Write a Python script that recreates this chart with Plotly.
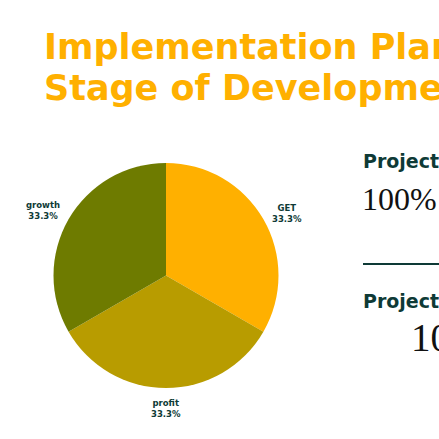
import math
import plotly.graph_objects as go

W = H = 439

# data
stages = ["GET", "profit", "growth"]
shares = [1, 1, 1]
stage_colors = ["#FFB000", "#B89C00", "#6E7B00"]

title_lines = ["Implementation Plan", "Stage of Development"]
side_heads = ["Project", "Project"]
side_values = ["100%", "100%"]

DARK = "#0E3A36"
AMBER = "#FFB000"

# pie box in pixels (left, right, top, bottom)
PIE_L, PIE_R, PIE_T, PIE_B = 53, 279, 163, 388
LABEL_R = 120  # px from pie centre to label anchor


def px_x(v):
    return v / W


def px_y(v):
    return 1 - v / H


fig = go.Figure(go.Pie(
    labels=stages,
    values=shares,
    sort=False,
    direction="clockwise",
    rotation=0,
    marker=dict(colors=stage_colors, line=dict(width=0)),
    textinfo="none",
    domain=dict(x=[px_x(PIE_L), px_x(PIE_R)], y=[px_y(PIE_B), px_y(PIE_T)]),
    showlegend=False,
    hoverinfo="label+percent",
))

annos = []

# outside slice labels, placed on each slice's mid angle
cx, cy = (PIE_L + PIE_R) / 2, (PIE_T + PIE_B) / 2
total = sum(shares)
acc = 0
for name, v in zip(stages, shares):
    mid = (acc + v / 2) / total * 2 * math.pi  # clockwise from 12 o'clock
    acc += v
    dx, dy = math.sin(mid), -math.cos(mid)
    shift = 0
    if dx > 0.1:
        xa, ya, shift = "left", "middle", 2
    elif dx < -0.1:
        xa, ya, shift = "right", "middle", 5
    else:
        xa, ya = "center", "top" if dy > 0 else "bottom"
    annos.append(dict(
        text=f"<b>{name}<br>{v / total * 100:.1f}%</b>",
        x=px_x(cx + LABEL_R * dx), y=px_y(cy + LABEL_R * dy), yshift=shift,
        xref="paper", yref="paper", xanchor=xa, yanchor=ya, showarrow=False,
        font=dict(family="DejaVu Sans", size=8.5, color=DARK),
    ))

# title, two lines, left aligned and running off the right edge
for txt, yc in zip(title_lines, [47, 88]):
    annos.append(dict(
        text=f"<b>{txt}</b>", x=px_x(42), y=px_y(yc), xref="paper", yref="paper",
        xanchor="left", yanchor="middle", showarrow=False,
        font=dict(family="DejaVu Sans", size=35, color=AMBER),
    ))

# side panel
for txt, yc in zip(side_heads, [161, 301]):
    annos.append(dict(
        text=f"<b>{txt}</b>", x=px_x(361), y=px_y(yc), xref="paper", yref="paper",
        xanchor="left", yanchor="middle", showarrow=False,
        font=dict(family="DejaVu Sans", size=19, color=DARK),
    ))
for txt, xl, yc, sz in zip(side_values, [360, 409], [199, 337], [32, 39]):
    annos.append(dict(
        text=txt, x=px_x(xl), y=px_y(yc), xref="paper", yref="paper",
        xanchor="left", yanchor="middle", showarrow=False,
        font=dict(family="Liberation Serif", size=sz, color="#111111"),
    ))

fig.update_layout(
    width=W, height=H,
    margin=dict(l=0, r=0, t=0, b=0),
    paper_bgcolor="white",
    plot_bgcolor="white",
    annotations=annos,
    shapes=[dict(type="line", xref="paper", yref="paper",
                 x0=px_x(363), x1=1.05, y0=px_y(264), y1=px_y(264),
                 line=dict(color=DARK, width=2))],
)

# drop the default 8px body margin so the figure fills the window
fig.write_html("out.html", config={"displayModeBar": False},
               post_script="document.body.style.margin='0';document.body.style.overflow='hidden';")
